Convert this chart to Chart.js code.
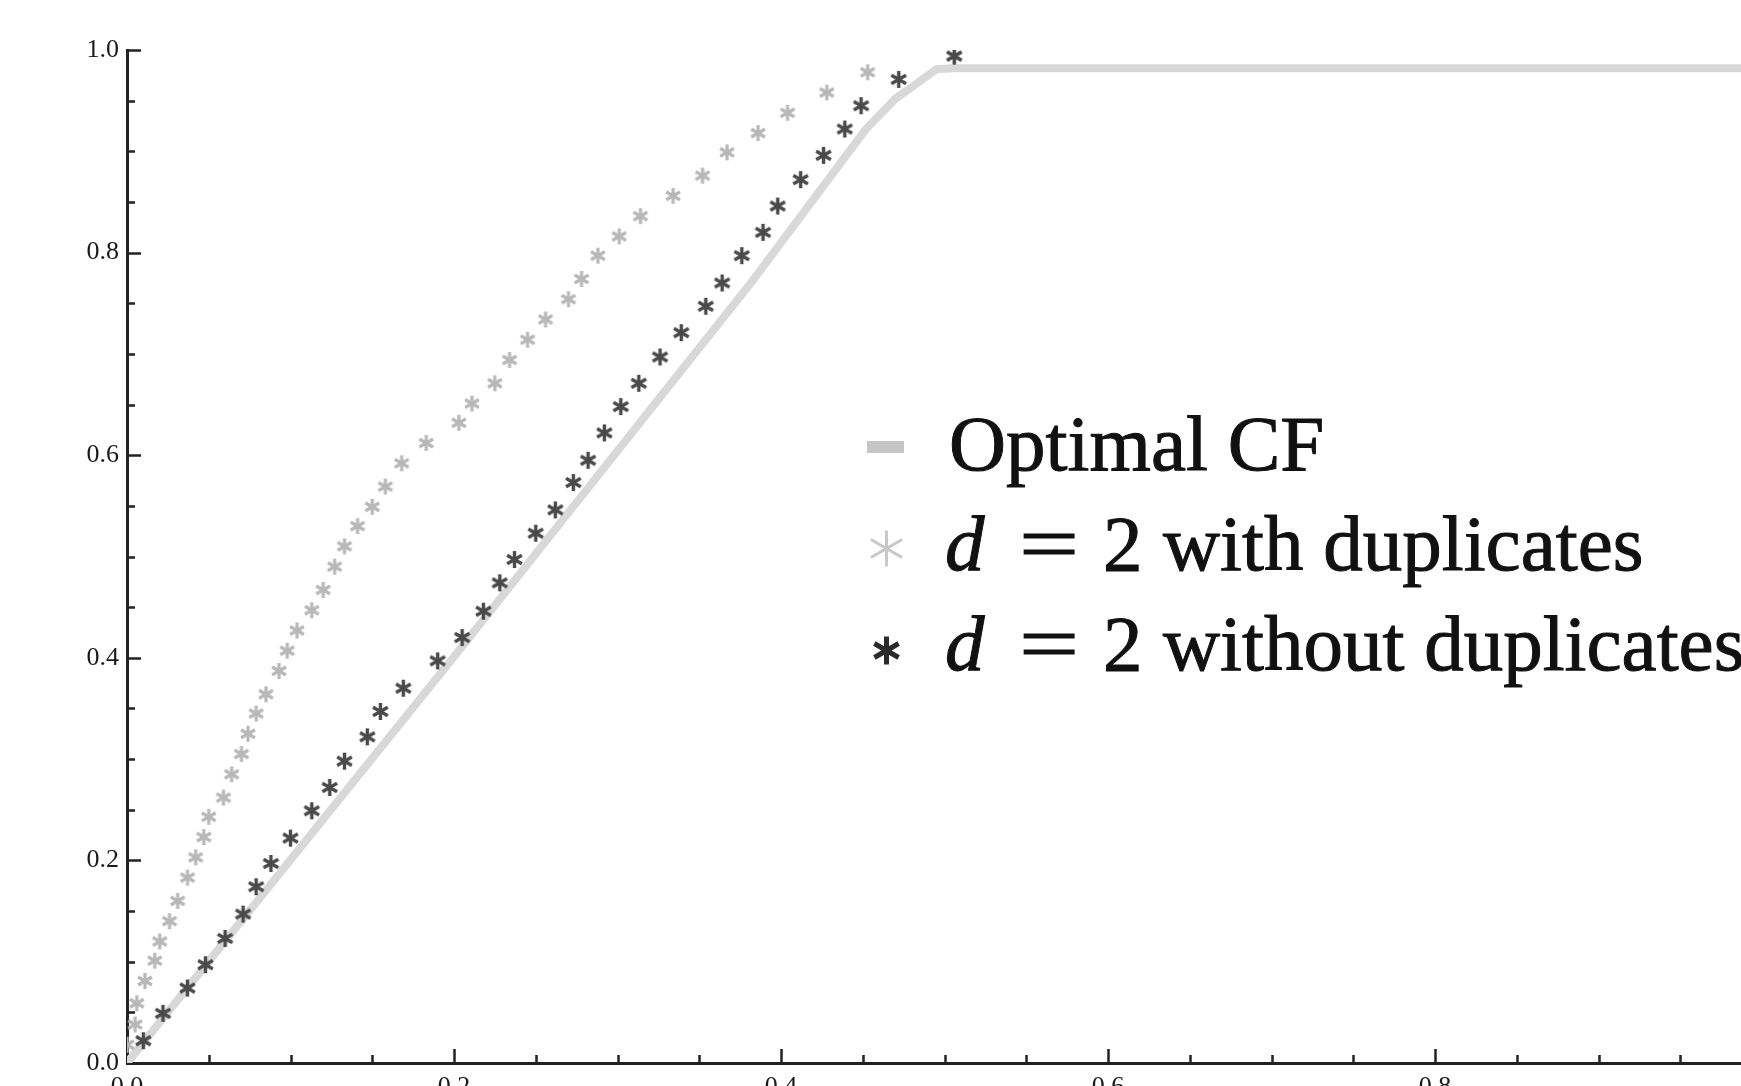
<!DOCTYPE html>
<html>
<head>
<meta charset="utf-8">
<title>Optimal CF vs d = 2</title>
<script src="https://cdn.jsdelivr.net/npm/chart.js@4.4.1/dist/chart.umd.min.js"></script>
<style>
  html, body { margin: 0; padding: 0; background: #fff; overflow: hidden; }
  #wrap { width: 1800px; height: 1120px; }
</style>
</head>
<body>
<div id="wrap"><canvas id="chart" width="1800" height="1120"></canvas></div>
<script>
'use strict';

// Optimal CF curve, vertices
const optimalX = [0.0, 0.2, 0.383, 0.452, 0.47, 0.483, 0.495, 0.505, 1.0];
const optimalY = [0.0, 0.401, 0.773, 0.922, 0.952, 0.967, 0.981, 0.982, 0.982];

// d = 2 with duplicates (light stars)
const withDupX = [0.000, 0.005, 0.006, 0.011, 0.017, 0.020, 0.026, 0.031, 0.037, 0.042,
  0.047, 0.050, 0.059, 0.064, 0.070, 0.074, 0.079, 0.085, 0.093, 0.098,
  0.104, 0.113, 0.120, 0.127, 0.133, 0.141, 0.150, 0.158, 0.168, 0.183,
  0.203, 0.211, 0.225, 0.234, 0.245, 0.256, 0.270, 0.278, 0.288, 0.301,
  0.314, 0.334, 0.352, 0.367, 0.386, 0.404, 0.428, 0.453, 0.506];
const withDupY = [0.018, 0.038, 0.059, 0.081, 0.101, 0.120, 0.140, 0.160, 0.183, 0.203,
  0.223, 0.243, 0.262, 0.285, 0.305, 0.325, 0.345, 0.364, 0.387, 0.407,
  0.427, 0.447, 0.467, 0.490, 0.510, 0.530, 0.549, 0.569, 0.592, 0.612,
  0.632, 0.651, 0.671, 0.694, 0.714, 0.734, 0.754, 0.774, 0.797, 0.816,
  0.836, 0.856, 0.876, 0.899, 0.918, 0.938, 0.958, 0.978, 0.994];

// d = 2 without duplicates (dark stars)
const noDupX = [0.010, 0.022, 0.037, 0.048, 0.060, 0.071, 0.079, 0.088, 0.100, 0.113,
  0.124, 0.133, 0.147, 0.155, 0.169, 0.190, 0.205, 0.218, 0.228, 0.237,
  0.250, 0.262, 0.273, 0.282, 0.292, 0.302, 0.313, 0.326, 0.339, 0.354,
  0.364, 0.376, 0.389, 0.398, 0.412, 0.426, 0.439, 0.449, 0.472, 0.506];
const noDupY = [0.022, 0.049, 0.074, 0.097, 0.123, 0.147, 0.174, 0.197, 0.222, 0.249,
  0.272, 0.298, 0.322, 0.347, 0.370, 0.397, 0.420, 0.446, 0.474, 0.497,
  0.523, 0.546, 0.573, 0.595, 0.622, 0.648, 0.671, 0.697, 0.721, 0.747,
  0.770, 0.797, 0.820, 0.846, 0.872, 0.896, 0.922, 0.945, 0.971, 0.994];

const tickLabels = ['0.0', '0.2', '0.4', '0.6', '0.8', '1.0'];

const SERIF = '"Liberation Serif", "Times New Roman", serif';
const LIGHT = '#b8b8b8';
const DARK = '#4a4a4a';
const LINE_GREY = '#d8d8d8';
const AXIS = '#222';

function toPoints(xs, ys) {
  return xs.map((x, i) => ({ x: x, y: ys[i] }));
}

// six-spoke asterisk used as point style
function asterisk(color, radius, lineWidth) {
  const size = Math.ceil(2 * radius + lineWidth + 2);
  const c = document.createElement('canvas');
  c.width = size;
  c.height = size;
  const ctx = c.getContext('2d');
  ctx.strokeStyle = color;
  ctx.lineWidth = lineWidth;
  ctx.translate(size / 2, size / 2);
  for (let k = 0; k < 3; k++) {
    const a = Math.PI / 2 + k * Math.PI / 3;
    ctx.beginPath();
    ctx.moveTo(Math.cos(a) * radius, Math.sin(a) * radius);
    ctx.lineTo(-Math.cos(a) * radius, -Math.sin(a) * radius);
    ctx.stroke();
  }
  return c;
}

// ticks pointing into the plot, minor every 0.05
const inwardTicks = {
  id: 'inwardTicks',
  afterDraw(chart) {
    const ctx = chart.ctx;
    const xs = chart.scales.x;
    const ys = chart.scales.y;
    const area = chart.chartArea;
    ctx.save();
    ctx.strokeStyle = AXIS;
    ctx.lineWidth = 2.5;
    for (let i = 1; i <= 20; i++) {
      const len = i % 4 === 0 ? 14 : 8;
      const px = Math.round(xs.getPixelForValue(i * 0.05)) + 0.5;
      ctx.beginPath();
      ctx.moveTo(px, area.bottom);
      ctx.lineTo(px, area.bottom - len);
      ctx.stroke();
      const py = Math.round(ys.getPixelForValue(i * 0.05)) + 0.5;
      ctx.beginPath();
      ctx.moveTo(area.left, py);
      ctx.lineTo(area.left + len, py);
      ctx.stroke();
    }
    ctx.restore();
  }
};

function heavyText(ctx, text, x, y) {
  ctx.fillText(text, x, y);
  ctx.strokeText(text, x, y);
}

// big serif legend placed inside the plot
const bigLegend = {
  id: 'bigLegend',
  afterDraw(chart) {
    const ctx = chart.ctx;
    const area = chart.chartArea;
    const textX = area.left + 822;
    const markX = area.left + 759;
    const base0 = area.top + 420;
    const rowGap = 100;
    const font = '79px ' + SERIF;
    ctx.save();
    ctx.textBaseline = 'alphabetic';
    ctx.textAlign = 'left';
    ctx.strokeStyle = '#111';
    ctx.lineWidth = 1;

    const sets = chart.data.datasets.slice().sort((a, b) => b.order - a.order);
    sets.forEach((ds, row) => {
      const base = base0 + row * rowGap;
      if (ds.showLine) {
        ctx.fillStyle = '#c6c6c6';
        ctx.fillRect(markX - 19, base - 29, 37, 12);
      } else if (row === 1) {
        ctx.drawImage(asterisk('#c8c8c8', 18, 3), markX - 20, base - 42);
      } else {
        ctx.drawImage(asterisk('#2a2a2a', 14, 5), markX - 17, base - 37);
      }
      ctx.fillStyle = '#111';
      const parts = ds.label.split(' ');
      if (parts[0] === 'd') {
        ctx.font = 'italic ' + font;
        heavyText(ctx, parts[0], textX - 4, base);
        ctx.font = font;
        // the math "=" is wider than the text one
        ctx.save();
        ctx.translate(textX + 100, base);
        ctx.scale(1.35, 1);
        ctx.textAlign = 'center';
        heavyText(ctx, parts[1], 0, 0);
        ctx.restore();
        heavyText(ctx, parts[2], textX + 154, base);
        heavyText(ctx, parts.slice(3).join(' '), textX + 214, base);
      } else {
        ctx.font = font;
        heavyText(ctx, ds.label, textX, base);
      }
    });
    ctx.restore();
  }
};

const tickFont = { family: SERIF, size: 26 };

new Chart(document.getElementById('chart').getContext('2d'), {
  type: 'scatter',
  data: {
    datasets: [
      {
        label: 'Optimal CF',
        data: toPoints(optimalX, optimalY),
        showLine: true,
        borderColor: LINE_GREY,
        borderWidth: 8,
        pointRadius: 0,
        borderJoinStyle: 'round',
        order: 3
      },
      {
        label: 'd = 2 with duplicates',
        data: toPoints(withDupX, withDupY),
        pointStyle: asterisk(LIGHT, 8, 3.2),
        pointRadius: 8,
        order: 2
      },
      {
        label: 'd = 2 without duplicates',
        data: toPoints(noDupX, noDupY),
        pointStyle: asterisk(DARK, 8.5, 3.4),
        pointRadius: 8,
        order: 1
      }
    ]
  },
  options: {
    responsive: false,
    animation: false,
    layout: { padding: { left: 0, top: 50, right: 38, bottom: 7 } },
    plugins: {
      legend: { display: false },
      tooltip: { enabled: false }
    },
    scales: {
      x: {
        type: 'linear',
        min: 0,
        max: 1,
        afterFit(scale) { scale.height = 50; },
        grid: { display: false, drawTicks: false },
        border: { display: true, color: AXIS, width: 3 },
        ticks: {
          stepSize: 0.2,
          padding: 9,
          color: '#1a1a1a',
          font: tickFont,
          maxRotation: 0,
          callback: (v, i) => tickLabels[i]
        }
      },
      y: {
        type: 'linear',
        min: 0,
        max: 1,
        afterFit(scale) { scale.width = 127; },
        grid: { display: false, drawTicks: false },
        border: { display: true, color: AXIS, width: 3 },
        ticks: {
          stepSize: 0.2,
          padding: 8,
          color: '#1a1a1a',
          font: tickFont,
          callback: (v, i) => tickLabels[i]
        }
      }
    }
  },
  plugins: [inwardTicks, bigLegend]
});
</script>
</body>
</html>
